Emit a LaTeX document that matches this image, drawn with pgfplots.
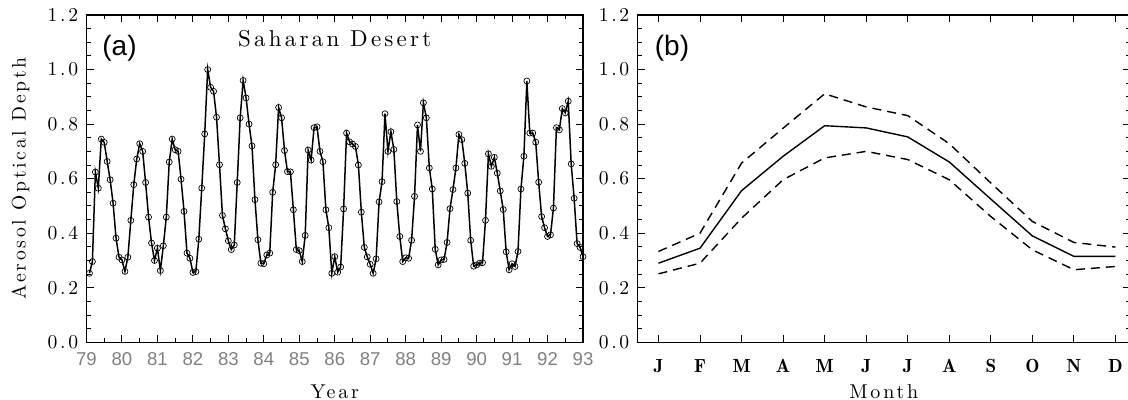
\documentclass[border=0pt]{standalone}
\usepackage{pgfplots}
\pgfplotsset{compat=1.18}
\usepackage{pgfplotstable}
\usepackage{fontspec}
\setmainfont{lmroman10-regular.otf}
\newfontfamily\idl{lmroman10-regular.otf}[LetterSpace=14]
\newfontfamily\idldemi{lmromandemi10-regular.otf}[LetterSpace=10]
\newfontfamily\hel{Liberation Sans}

% monthly aerosol optical depth, Jan 1979 - Dec 1992
\pgfplotstableread{
v
0.253
0.296
0.624
0.565
0.745
0.733
0.663
0.596
0.510
0.382
0.312
0.302
0.260
0.312
0.447
0.578
0.672
0.728
0.700
0.586
0.459
0.364
0.300
0.345
0.263
0.354
0.459
0.661
0.745
0.706
0.700
0.598
0.480
0.327
0.308
0.256
0.259
0.378
0.565
0.764
1.000
0.935
0.920
0.825
0.651
0.465
0.416
0.372
0.340
0.357
0.586
0.823
0.960
0.896
0.800
0.720
0.523
0.376
0.290
0.288
0.320
0.327
0.550
0.651
0.861
0.823
0.703
0.626
0.625
0.486
0.340
0.336
0.296
0.392
0.705
0.668
0.787
0.790
0.700
0.662
0.486
0.420
0.253
0.314
0.257
0.276
0.489
0.767
0.735
0.727
0.718
0.650
0.477
0.348
0.313
0.286
0.253
0.306
0.515
0.589
0.838
0.700
0.772
0.707
0.516
0.388
0.296
0.310
0.308
0.374
0.535
0.797
0.700
0.878
0.823
0.639
0.562
0.341
0.284
0.302
0.304
0.366
0.490
0.560
0.639
0.762
0.743
0.656
0.547
0.374
0.279
0.284
0.290
0.292
0.447
0.691
0.645
0.678
0.620
0.555
0.487
0.332
0.266
0.288
0.278
0.333
0.562
0.682
0.958
0.767
0.767
0.734
0.587
0.461
0.420
0.388
0.394
0.492
0.787
0.779
0.857
0.841
0.884
0.654
0.528
0.362
0.348
0.314
}\aodtable

\pgfplotstableread{
m mean upper lower
0  0.290 0.333 0.251
1  0.345 0.400 0.290
2  0.556 0.657 0.455
3  0.682 0.785 0.596
4  0.794 0.911 0.676
5  0.786 0.863 0.700
6  0.753 0.831 0.670
7  0.661 0.728 0.596
8  0.525 0.584 0.461
9  0.390 0.443 0.339
10 0.315 0.366 0.266
11 0.315 0.349 0.278
}\climtable

\pgfplotsset{
  idlaxis/.style={
    scale only axis,
    height=163.65pt,
    ymin=0, ymax=1.2,
    ytick={0,0.2,0.4,0.6,0.8,1.0,1.2},
    minor y tick num=3,
    tick align=inside,
    major tick length=3.5pt,
    minor tick length=2pt,
    axis line style={line width=0.6pt},
    tick style={black, line width=0.5pt},
    yticklabel style={font=\idl\fontsize{9.8}{10}\selectfont, anchor=east, inner sep=0pt, xshift=-4pt,
      /pgf/number format/fixed, /pgf/number format/fixed zerofill,
      /pgf/number format/precision=1, /pgf/number format/assume math mode=true},
  }
}

\begin{document}
\begin{tikzpicture}
\path[use as bounding box] (0,0) rectangle (564pt,200pt);

\begin{axis}[idlaxis, at={(43.25pt,28.85pt)}, anchor=south west, width=248.25pt,
  xmin=-1, xmax=167, xtick={-1,11,...,167}, minor x tick num=1,
  xticklabels={79,80,81,82,83,84,85,86,87,88,89,90,91,92,93},
  xticklabel style={font=\hel\fontsize{9.3}{10}\selectfont, text=black!50, anchor=center, yshift=-8.35pt},
  xlabel={Year},
  xlabel style={font=\idl\fontsize{10}{12}\selectfont, at={(axis description cs:0.5,-0.1732)}, anchor=base},
  ylabel={Aerosol Optical Depth},
  ylabel style={font=\idl\fontsize{9.8}{11}\selectfont, at={(axis description cs:-0.1329,0.5)}, anchor=center},
]
\addplot[black, line width=0.75pt, mark=o, mark size=1.5pt, mark options={line width=0.35pt, black}]
  table[x expr=\coordindex, y=v] {\aodtable};
\node[font=\hel\fontsize{14}{16}\selectfont] at (axis description cs:0.0664,0.899) {(a)};
\node[font=\idl\fontsize{11.5}{13}\selectfont, anchor=base] at (axis description cs:0.5,0.903) {Saharan Desert};
\end{axis}

\begin{axis}[idlaxis, at={(318.85pt,28.85pt)}, anchor=south west, width=246.15pt,
  xmin=-0.5, xmax=11.35, xtick={0,1,2,3,4,5,6,7,8,9,10,11},
  xticklabels={J,F,M,A,M,J,J,A,S,O,N,D},
  xticklabel style={font=\idldemi\fontsize{9.5}{10}\selectfont, anchor=center, yshift=-12pt},
  xlabel={Month},
  xlabel style={font=\idl\fontsize{10}{12}\selectfont, at={(axis description cs:0.5,-0.1732)}, anchor=base},
]
\addplot[black, line width=0.7pt] table[x=m, y=mean] {\climtable};
\addplot[black, line width=0.7pt, dash pattern=on 4.5pt off 3pt] table[x=m, y=upper] {\climtable};
\addplot[black, line width=0.7pt, dash pattern=on 4.5pt off 3pt] table[x=m, y=lower] {\climtable};
\node[font=\hel\fontsize{14}{16}\selectfont] at (axis description cs:0.0697,0.899) {(b)};
\end{axis}
\end{tikzpicture}
\end{document}
